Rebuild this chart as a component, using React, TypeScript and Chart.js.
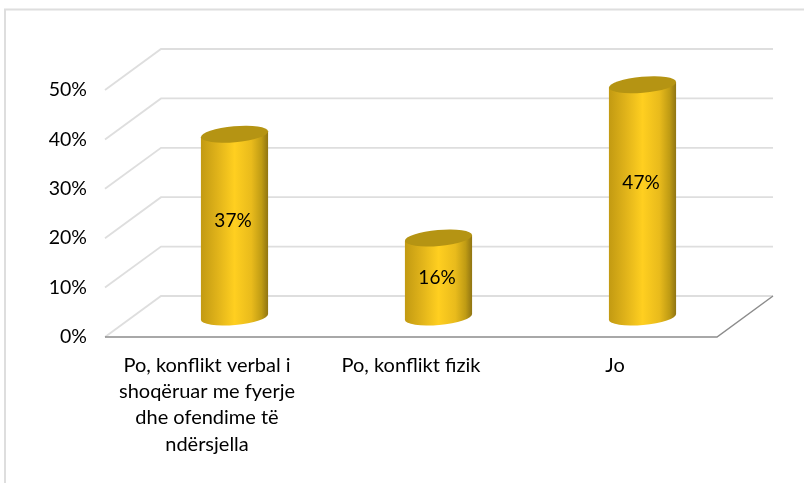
import React, { useEffect, useRef } from "react";
import { Chart, registerables } from "chart.js";

Chart.register(...registerables);

const categories = [
  ["Po, konflikt verbal i", "shoqëruar me fyerje", "dhe ofendime të", "ndërsjella"],
  "Po, konflikt fizik",
  "Jo",
];
const values = [37, 16, 47];
const dataLabels = ["37%", "16%", "47%"];
const dataLabelHeights = [19.5, 8, 27.2];
const yTicksMax = 50;
const yTickStep = 10;

const FONT = "Lato, Carlito, sans-serif";
const DEPTH_X = 56;
const DEPTH_Y = -41;
const BAR_SHIFT_X = 27.5;
const BAR_SHIFT_Y = -20;
const CYL_RX = 33.7;
const CYL_RY = 8;
const CYL_TILT = (-5 * Math.PI) / 180;

const threeD = {
  id: "threeD",
  beforeDraw(chart: any) {
    const { ctx, width, height } = chart;
    ctx.save();
    ctx.fillStyle = "#ffffff";
    ctx.fillRect(0, 0, width, height);
    ctx.strokeStyle = "#dedede";
    ctx.lineWidth = 2;
    ctx.beginPath();
    ctx.moveTo(5, height);
    ctx.lineTo(5, 9.5);
    ctx.lineTo(width, 9.5);
    ctx.stroke();
    ctx.restore();
  },
  beforeDatasetsDraw(chart: any) {
    const { ctx, chartArea, scales } = chart;
    const { left, right } = chartArea;
    const y = scales.y;
    ctx.save();
    // Back and side grid lines
    ctx.strokeStyle = "#dedede";
    ctx.lineWidth = 1.8;
    y.ticks.forEach((t: any) => {
      const py = y.getPixelForValue(t.value);
      ctx.beginPath();
      ctx.moveTo(left, py);
      ctx.lineTo(left + DEPTH_X, py + DEPTH_Y);
      ctx.lineTo(right + DEPTH_X, py + DEPTH_Y);
      ctx.stroke();
    });
    // Floor front and right edges
    const y0 = y.getPixelForValue(0);
    ctx.strokeStyle = "#8c8c8c";
    ctx.lineWidth = 1.5;
    ctx.beginPath();
    ctx.moveTo(left, y0);
    ctx.lineTo(right, y0);
    ctx.lineTo(right + DEPTH_X, y0 + DEPTH_Y);
    ctx.stroke();

    // Cylinders, positioned from the bar elements
    const meta = chart.getDatasetMeta(0);
    meta.data.forEach((bar: any) => {
      const cx = bar.x + BAR_SHIFT_X;
      const topY = bar.y + BAR_SHIFT_Y;
      const baseY = bar.base + BAR_SHIFT_Y;
      const dx = CYL_RX * Math.cos(CYL_TILT);
      const dy = CYL_RX * Math.sin(CYL_TILT);
      const grad = ctx.createLinearGradient(cx - CYL_RX, 0, cx + CYL_RX, 0);
      grad.addColorStop(0, "#c29a12");
      grad.addColorStop(0.25, "#e0b31a");
      grad.addColorStop(0.5, "#ffcf20");
      grad.addColorStop(0.75, "#e9bb1c");
      grad.addColorStop(0.9, "#c09c14");
      grad.addColorStop(1, "#8f7412");
      ctx.fillStyle = grad;
      ctx.beginPath();
      ctx.moveTo(cx - dx, topY - dy);
      ctx.lineTo(cx - dx, baseY - dy);
      ctx.ellipse(cx, baseY, CYL_RX, CYL_RY, CYL_TILT, Math.PI, 0, true);
      ctx.lineTo(cx + dx, topY + dy);
      ctx.closePath();
      ctx.fill();
      ctx.fillStyle = "#b59413";
      ctx.beginPath();
      ctx.ellipse(cx, topY, CYL_RX, CYL_RY, CYL_TILT, 0, Math.PI * 2);
      ctx.fill();
    });
    ctx.restore();
  },
  afterDatasetsDraw(chart: any) {
    const { ctx, scales } = chart;
    const meta = chart.getDatasetMeta(0);
    ctx.save();
    ctx.fillStyle = "#000000";
    ctx.font = `19px ${FONT}`;
    ctx.textAlign = "center";
    ctx.textBaseline = "middle";
    meta.data.forEach((bar: any, i: number) => {
      const py = scales.y.getPixelForValue(dataLabelHeights[i]) + BAR_SHIFT_Y;
      ctx.fillText(dataLabels[i], bar.x + BAR_SHIFT_X - 1.5, py);
    });
    ctx.restore();
  },
};

export default function App() {
  const ref = useRef<HTMLCanvasElement>(null);
  useEffect(() => {
    if (!ref.current) return;
    const chart = new Chart(ref.current, {
      type: "bar",
      data: {
        labels: categories as any,
        datasets: [
          { data: values, backgroundColor: "rgba(0,0,0,0)", borderWidth: 0 },
        ],
      },
      options: {
        responsive: false,
        animation: false,
        layout: { padding: { top: 90, right: 87, left: 0, bottom: 0 } },
        plugins: { legend: { display: false }, tooltip: { enabled: false }, title: { display: false } },
        scales: {
          x: {
            grid: { display: false },
            border: { display: false },
            afterFit: (s: any) => { s.height = 146; },
            ticks: {
              color: "#000000",
              font: { family: FONT, size: 20, lineHeight: 1.32 },
              padding: 7,
              maxRotation: 0,
              autoSkip: false,
            },
          },
          y: {
            min: 0,
            max: yTicksMax,
            grid: { display: false },
            border: { display: false },
            afterFit: (s: any) => { s.width = 105; },
            ticks: {
              stepSize: yTickStep,
              color: "#000000",
              padding: 10,
              font: { family: FONT, size: 19.5 },
              callback: (v: any) => `${v}%`,
            },
          },
        },
      },
      plugins: [threeD],
    });
    return () => chart.destroy();
  }, []);
  return (
    <div style={{ position: "absolute", left: 0, top: 0, width: 804, height: 483 }}>
      <canvas ref={ref} width={804} height={483} style={{ display: "block" }} />
    </div>
  );
}
